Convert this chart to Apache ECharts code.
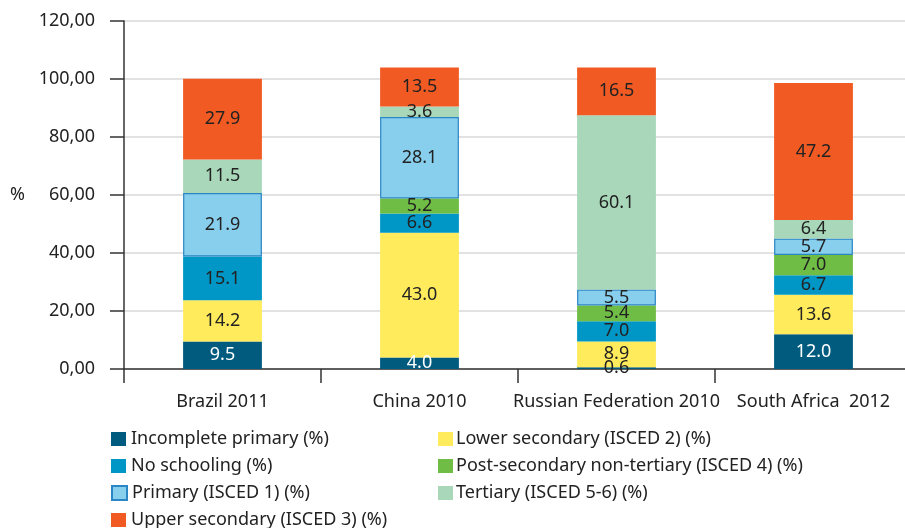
<!DOCTYPE html>
<html>
<head>
<meta charset="utf-8">
<script src="https://cdn.jsdelivr.net/npm/echarts@6/dist/echarts.min.js"></script>
<style>
* { margin: 0; padding: 0; }
html, body { width: 905px; height: 528px; background: #fff; overflow: hidden; }
#chart { width: 905px; height: 528px; }
</style>
</head>
<body>
<div id="chart"></div>
<script>
// data
const countries = ['Brazil 2011', 'China 2010', 'Russian Federation 2010', 'South Africa  2012']
const yTicks = [0, 20, 40, 60, 80, 100, 120]
const incompletePrimary = [9.5, 4.0, 0.6, 12.0]
const lowerSecondary = [14.2, 43.0, 8.9, 13.6]
const noSchooling = [15.1, 6.6, 7.0, 6.7]
const postSecondary = [null, 5.2, 5.4, 7.0]
const primary = [21.9, 28.1, 5.5, 5.7]
const tertiary = [11.5, 3.6, 60.1, 6.4]
const upperSecondary = [27.9, 13.5, 16.5, 47.2]

const FONT = '"Noto Sans", "Open Sans", sans-serif'
const TXT = '#222222'
const FS = 18

// common series settings
function bar(name, data, color, labelColor, extra) {
    return Object.assign({
        name: name,
        type: 'bar',
        stack: 'total',
        barWidth: '40%',
        // tiny segments get their label drawn dark (it sits outside the fill)
        data: data.map(v => (v != null && v < 2) ? { value: v, label: { color: TXT } } : v),
        itemStyle: { color: color },
        label: {
            show: true,
            position: 'inside',
            color: labelColor,
            fontFamily: FONT,
            fontSize: FS,
            formatter: p => p.value == null ? '' : Number(p.value).toFixed(1)
        },
        emphasis: { disabled: true }
    }, extra || {})
}

// one legend per entry so the two columns line up like the original
function legendItem(name, left, top, gap) {
    return {
        left: left, top: top,
        itemWidth: 15, itemHeight: 14,
        icon: 'rect',
        padding: 0,
        textStyle: { fontFamily: FONT, fontSize: FS, color: TXT, padding: [0, 0, 0, gap] },
        data: [name]
    }
}

const chart = echarts.init(document.getElementById('chart'), null, { renderer: 'canvas' })
chart.setOption({
    animation: false,
    textStyle: { fontFamily: FONT },
    grid: { left: 124, top: 21, width: 788, height: 348, containLabel: false, outerBoundsMode: 'none' },
    legend: [
        legendItem('Incomplete primary (%)', 111, 430, 0),
        legendItem('No schooling (%)', 111, 457, 0),
        legendItem('Primary (ISCED 1) (%)', 111, 484, 0),
        legendItem('Upper secondary (ISCED 3) (%)', 111, 511, 0),
        legendItem('Lower secondary (ISCED 2) (%)', 438, 430, -2),
        legendItem('Post-secondary non-tertiary (ISCED 4) (%)', 438, 457, -2),
        legendItem('Tertiary (ISCED 5-6) (%)', 438, 484, -2)
    ],
    xAxis: {
        type: 'category',
        data: countries,
        axisLine: { lineStyle: { color: '#333', width: 1.5 } },
        axisTick: { show: true, length: 14, lineStyle: { color: '#333', width: 1.5 } },
        axisLabel: { color: TXT, fontSize: FS, fontFamily: FONT, margin: 24, interval: 0 }
    },
    yAxis: {
        type: 'value',
        min: yTicks[0],
        max: yTicks[yTicks.length - 1],
        interval: 20,
        name: '%',
        nameLocation: 'middle',
        nameRotate: 0,
        nameGap: 99,
        nameTextStyle: { color: TXT, fontSize: FS, fontFamily: FONT },
        axisLine: { show: true, lineStyle: { color: '#333', width: 1.5 } },
        axisTick: { show: true, length: 14, lineStyle: { color: '#333', width: 1.5 } },
        axisLabel: {
            color: TXT, fontSize: FS, fontFamily: FONT, margin: 29,
            formatter: v => v.toFixed(2).replace('.', ',')
        },
        splitLine: { show: true, lineStyle: { color: '#d9d9d9', width: 1.5 } }
    },
    series: [
        bar('Incomplete primary (%)', incompletePrimary, '#005b7f', '#ffffff'),
        bar('Lower secondary (ISCED 2) (%)', lowerSecondary, '#ffeb5b', TXT),
        bar('No schooling (%)', noSchooling, '#0097c6', TXT),
        bar('Post-secondary non-tertiary (ISCED 4) (%)', postSecondary, '#6fbd44', TXT),
        bar('Primary (ISCED 1) (%)', primary, '#88cfee', TXT, {
            itemStyle: { color: '#88cfee', borderColor: '#2a86c4', borderWidth: 1.2 }
        }),
        bar('Tertiary (ISCED 5-6) (%)', tertiary, '#a8d7b9', TXT),
        bar('Upper secondary (ISCED 3) (%)', upperSecondary, '#f15a22', TXT)
    ]
})
</script>
</body>
</html>
